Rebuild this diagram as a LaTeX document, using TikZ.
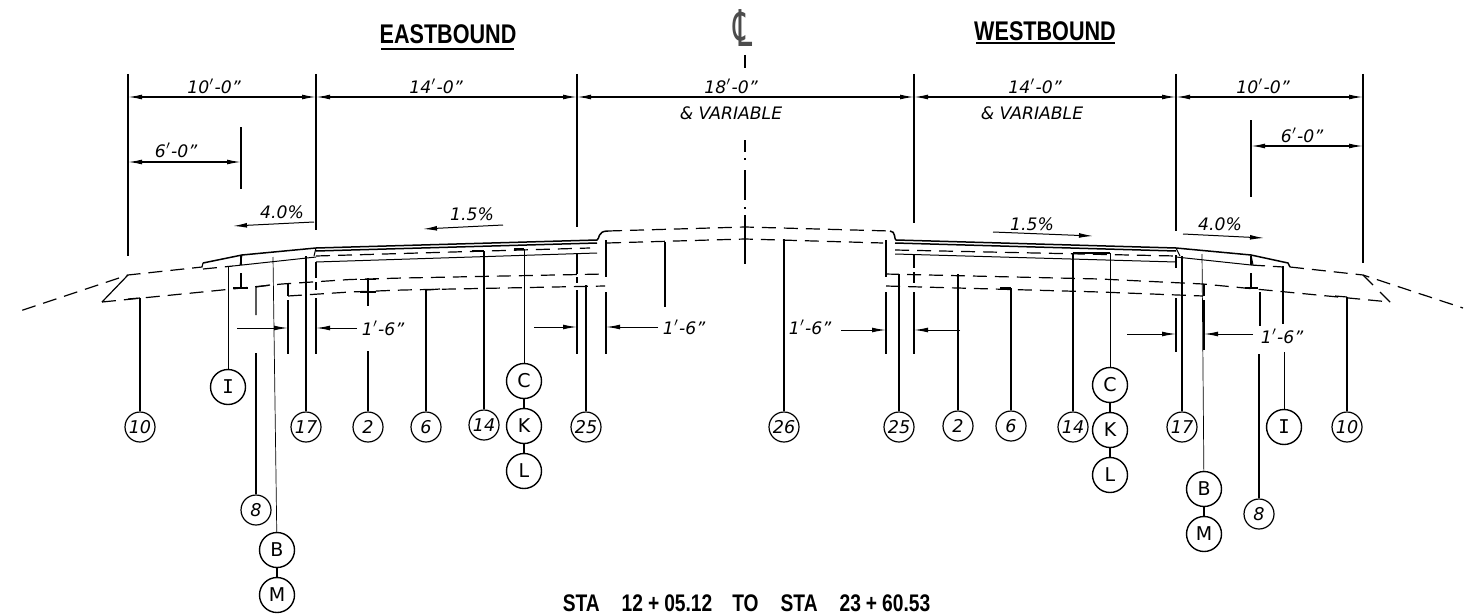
\documentclass[tikz,border=0pt]{standalone}
\usepackage{fontspec}
\usetikzlibrary{arrows.meta, positioning}
\setmainfont{DejaVu Sans}
\newfontfamily\headfont[FakeStretch=0.8]{Liberation Sans}
\newfontfamily\letterfont{DejaVu Sans Mono}
\tikzset{
    callit/.style={shape=circle, draw=black, line width=0.6pt, minimum size=15pt, inner sep=0pt, font=\fontsize{8.8}{8.8}\selectfont\itshape},
    callet/.style={shape=circle, draw=black, line width=0.7pt, minimum size=17.5pt, inner sep=0pt, font=\fontsize{9.5}{9.5}\selectfont},
    dimtext/.style={inner sep=0pt, font=\fontsize{8.6}{8.6}\selectfont\itshape},
    headtext/.style={inner sep=0pt, font=\fontsize{13.5}{13.5}\headfont\bfseries},
    ext/.style={line width=0.6pt},
    leader/.style={line width=0.6pt},
    thinleader/.style={line width=0.35pt},
    dim/.style={line width=0.6pt, {Latex[length=7pt,width=2.4pt]}-{Latex[length=7pt,width=2.4pt]}},
    slope/.style={line width=0.5pt, -{Latex[length=7pt,width=2.4pt]}},
    surface/.style={line width=0.75pt},
    layer/.style={line width=0.5pt},
    base/.style={line width=0.6pt, dash pattern=on 7pt off 4pt}
}
\begin{document}
\begin{tikzpicture}[x=0.5pt, y=-0.5pt]
    \useasboundingbox (0,0) rectangle (1470,615);

    \node[headtext] (east) at (448,34) {EASTBOUND};
    \node[headtext] (west) at (1045,31) {WESTBOUND};
    \draw[line width=0.7pt] (381,49) -- (514,49);
    \draw[line width=0.7pt] (976,43) -- (1115,43);
    \node[inner sep=0pt, text=black!70, font=\fontsize{13}{13}\selectfont] (cl) at (743,28) {\scalebox{1.15}[1.95]{℄}};

    \draw[ext] (128,74) -- (128,256);
    \draw[ext] (316,74) -- (316,230);
    \draw[ext] (577,74) -- (577,227);
    \draw[ext] (914,74) -- (914,223);
    \draw[ext] (1176,74) -- (1176,231);
    \draw[ext] (1363,74) -- (1363,263);
    \draw[ext] (241,127) -- (241,189);
    \draw[ext] (1251,120) -- (1251,197);

    \coordinate (d1) at (128,97);
    \coordinate (d2) at (316,97);
    \coordinate (d3) at (577,97);
    \coordinate (d4) at (914,97);
    \coordinate (d5) at (1176,97);
    \coordinate (d6) at (1363,97);
    \coordinate (s1) at (128,162);
    \coordinate (s2) at (241,162);
    \coordinate (s3) at (1251,146);
    \coordinate (s4) at (1363,146);
    \draw[dim] (d1) -- (d2);
    \draw[dim] (d2) -- (d3);
    \draw[dim] (d3) -- (d4);
    \draw[dim] (d4) -- (d5);
    \draw[dim] (d5) -- (d6);
    \draw[dim] (s1) -- (s2);
    \draw[dim] (s3) -- (s4);

    \node[dimtext] (t1) at (214,86) {10$'$-0"};
    \node[dimtext] (t2) at (436,86) {14$'$-0"};
    \node[dimtext] (t3) at (731,86) {18$'$-0"};
    \node[dimtext] (t4) at (1035,86) {14$'$-0"};
    \node[dimtext] (t5) at (1263,86) {10$'$-0"};
    \node[dimtext] (t6) at (176,150) {6$'$-0"};
    \node[dimtext] (t7) at (1302,135) {6$'$-0"};
    \node[dimtext] (v1) at (731,113) {\& VARIABLE};
    \node[dimtext] (v2) at (1032,113) {\& VARIABLE};

    \draw[line width=0.7pt] (745,55) -- (745,68);
    \draw[line width=0.7pt] (745,140) -- (745,152) (745,158) -- (745,160) (745,170) -- (745,200) (745,207) -- (745,209) (745,215) -- (745,264);

    \coordinate (sa1) at (314,222);
    \coordinate (sa2) at (233,226);
    \coordinate (sa3) at (503,225);
    \coordinate (sa4) at (423,229);
    \coordinate (sa5) at (993,232);
    \coordinate (sa6) at (1093,236);
    \coordinate (sa7) at (1183,234);
    \coordinate (sa8) at (1264,238);
    \draw[slope] (sa1) -- (sa2);
    \draw[slope] (sa3) -- (sa4);
    \draw[slope] (sa5) -- (sa6);
    \draw[slope] (sa7) -- (sa8);
    \node[dimtext] (p1) at (282,212) {4.0\%};
    \node[dimtext] (p2) at (472,214) {1.5\%};
    \node[dimtext] (p3) at (1032,224) {1.5\%};
    \node[dimtext] (p4) at (1220,224) {4.0\%};

    \draw[surface] (203,263) -- (242,255) -- (316,248) -- (597,240) .. controls (600,239) and (597,231) .. (608,231);
    \draw[surface] (890,231) .. controls (896,231) and (894,240) .. (896,240) -- (1176,248) -- (1251,255) -- (1288,263) -- (1290,267);
    \draw[surface] (316,251) -- (597,243);
    \draw[surface] (895,243) -- (1176,251);
    \draw[layer] (233,266) -- (316,257);
    \draw[layer] (1176,257) -- (1251,265);
    \draw[layer] (316,262) -- (597,253);
    \draw[layer] (895,254) -- (1176,262);
    \draw[layer] (316,248) -- (314,256);
    \draw[layer] (242,255) -- (240,265);
    \draw[layer] (1176,248) -- (1180,256);
    \draw[layer] (1251,255) -- (1253,265);

    \draw[base] (608,231) -- (745,227) -- (890,231);
    \draw[base] (607,243) -- (745,239) -- (883,243);
    \draw[base] (203,263) -- (202,267) -- (128,275) -- (17,312);
    \draw[base] (1290,267) -- (1363,275) -- (1463,308);
    \draw[base] (316,256) -- (590,248);
    \draw[base] (895,250) -- (1176,256);
    \draw[base] (102,302) -- (282,284) -- (350,279.5) -- (403,278) -- (605,274);
    \draw[base] (288,296) -- (350,292) -- (403,290) -- (605,286);
    \draw[base] (885,274) -- (1100,279) -- (1203,284) -- (1390,302);
    \draw[base] (886,286) -- (1100,292) -- (1203,296);
    \draw[base] (1251,265) -- (1283,267);
    \draw[base] (203,269) -- (233,266);
    \draw[ext] (128,275) -- (102,302);
    \draw[ext] (1363,275) -- (1373,285) (1380,292) -- (1390,302);
    \draw[ext] (288,284) -- (288,296);
    \draw[ext] (1204,284) -- (1204,296);

    \draw[ext] (241,256) -- (241,265) (241,273) -- (241,288) (233,288) -- (248,288);
    \draw[ext] (1251,256) -- (1251,265) (1251,273) -- (1251,288) (1245,288) -- (1258,288);
    \draw[ext] (256,287) -- (270,285) (256,287) -- (256,315);
    \draw[ext] (368,278) -- (368,306) (360,279.5) -- (376,279.5) (360,292) -- (376,292);
    \draw[ext] (1260,292) -- (1260,326);
    \draw[ext] (1283,266) -- (1283,324);
    \draw[ext] (665,242) -- (665,307);

    \draw[ext] (288,300) -- (288,354) (316,262) -- (316,278) (316,282) -- (316,290) (316,298) -- (316,354);
    \draw[ext] (577,254) -- (577,274) (577,277) -- (577,283) (577,290) -- (577,354);
    \draw[ext] (606,240) -- (606,277) (606,292) -- (606,354);
    \draw[ext] (886,240) -- (886,277) (886,292) -- (886,354);
    \draw[ext] (914,255) -- (914,268) (914,272) -- (914,283) (914,292) -- (914,354);
    \draw[ext] (1176,255) -- (1176,268) (1176,298) -- (1176,352);
    \draw[ext] (1204,300) -- (1204,350);

    \coordinate (a1) at (237,328);
    \coordinate (a2) at (288,328);
    \coordinate (a3) at (357,328);
    \coordinate (a4) at (316,328);
    \coordinate (a5) at (534,327);
    \coordinate (a6) at (577,327);
    \coordinate (a7) at (658,327);
    \coordinate (a8) at (606,327);
    \coordinate (a9) at (841,330);
    \coordinate (a10) at (886,330);
    \coordinate (a11) at (960,330);
    \coordinate (a12) at (914,330);
    \coordinate (a13) at (1127,334);
    \coordinate (a14) at (1176,334);
    \coordinate (a15) at (1253,334);
    \coordinate (a16) at (1204,334);
    \draw[slope] (a1) -- (a2);
    \draw[slope] (a3) -- (a4);
    \draw[slope] (a5) -- (a6);
    \draw[slope] (a7) -- (a8);
    \draw[slope] (a9) -- (a10);
    \draw[slope] (a11) -- (a12);
    \draw[slope] (a13) -- (a14);
    \draw[slope] (a15) -- (a16);
    \node[dimtext] (f1) at (383,328) {1$'$-6"};
    \node[dimtext] (f2) at (684,327) {1$'$-6"};
    \node[dimtext] (f3) at (810,327) {1$'$-6"};
    \node[dimtext] (f4) at (1282,336) {1$'$-6"};

    \node[callit] (A10) at (140,427) {10};
    \node[callit] (A17) at (306,427) {17};
    \node[callit] (A2) at (368,427) {2};
    \node[callit] (A6) at (426,427) {6};
    \node[callit] (A14) at (484,425) {14};
    \node[callit] (A25) at (586,427) {25};
    \node[callit] (A8) at (256,510) {8};
    \node[callet] (AI) at (228,387) {\letterfont I};
    \node[callet] (AC) at (524,381) {C};
    \node[callet] (AK) at (524,426) {K};
    \node[callet] (AL) at (524,471) {L};
    \node[callet] (AB) at (277,550) {B};
    \node[callet] (AM) at (277,595) {M};
    \node[callit] (M26) at (784,427) {26};
    \node[callit] (B25) at (899,427) {25};
    \node[callit] (B2) at (958,426) {2};
    \node[callit] (B6) at (1011,426) {6};
    \node[callit] (B14) at (1073,427) {14};
    \node[callit] (B17) at (1182,427) {17};
    \node[callit] (B10) at (1347,427) {10};
    \node[callit] (B8) at (1259,514) {8};
    \node[callet] (BI) at (1284,427) {\letterfont I};
    \node[callet] (BC) at (1110,385) {C};
    \node[callet] (BK) at (1110,430) {K};
    \node[callet] (BL) at (1110,475) {L};
    \node[callet] (BB) at (1204,489) {B};
    \node[callet] (BM) at (1204,534) {M};

    \coordinate (A10t) at (140,298);
    \coordinate (A17t) at (306,256);
    \coordinate (A2t) at (368,351);
    \coordinate (A6t) at (426,290);
    \coordinate (A14t) at (484,251);
    \coordinate (A25t) at (586,285);
    \coordinate (A8t) at (256,353);
    \coordinate (AIt) at (228,266);
    \coordinate (ACt) at (524,249);
    \coordinate (ABt) at (273,257);
    \coordinate (M26t) at (784,239);
    \coordinate (B25t) at (899,274);
    \coordinate (B2t) at (958,274);
    \coordinate (B6t) at (1011,288);
    \coordinate (B14t) at (1073,253);
    \coordinate (B17t) at (1182,256);
    \coordinate (B10t) at (1347,297);
    \coordinate (B8t) at (1259,354);
    \coordinate (BIt) at (1284,352);
    \coordinate (BCt) at (1110,253);
    \coordinate (BBt) at (1202,254);

    \path[leader] (A10t) edge (A10);
    \path[leader] (A17t) edge (A17);
    \path[leader] (A2t) edge (A2);
    \path[leader] (A6t) edge (A6);
    \path[leader] (A14t) edge (A14);
    \path[leader] (A25t) edge (A25);
    \path[leader] (A8t) edge (A8);
    \path[thinleader] (AIt) edge (AI);
    \path[thinleader] (ACt) edge (AC);
    \path[thinleader] (ABt) edge (AB);
    \path[leader] (M26t) edge (M26);
    \path[leader] (B25t) edge (B25);
    \path[leader] (B2t) edge (B2);
    \path[leader] (B6t) edge (B6);
    \path[leader] (B14t) edge (B14);
    \path[leader] (B17t) edge (B17);
    \path[leader] (B10t) edge (B10);
    \path[leader] (B8t) edge (B8);
    \path[thinleader] (BIt) edge (BI);
    \path[thinleader] (BCt) edge (BC);
    \path[thinleader] (BBt) edge (BB);
    \path[leader] (AC) edge (AK);
    \path[leader] (AK) edge (AL);
    \path[leader] (AB) edge (AM);
    \path[leader] (BC) edge (BK);
    \path[leader] (BK) edge (BL);
    \path[leader] (BB) edge (BM);
    \draw[ext] (140,298) -- (128,299);
    \draw[ext] (426,290) -- (440,289);
    \draw[ext] (1011,288) -- (1000,288);
    \draw[ext] (1347,297) -- (1335,296);
    \draw[ext] (472,251) -- (484,251) (524,249) -- (514,249);
    \draw[ext] (1073,253) -- (1110,253);

    \node[inner sep=0pt, anchor=base, font=\fontsize{12}{12}\headfont\bfseries] (title) at (746.5,611) {STA\hspace{11pt}12\hspace{2.5pt}+\hspace{2.5pt}05.12\hspace{10pt}TO\hspace{11pt}STA\hspace{11pt}23\hspace{2.5pt}+\hspace{2.5pt}60.53};
\end{tikzpicture}
\end{document}
